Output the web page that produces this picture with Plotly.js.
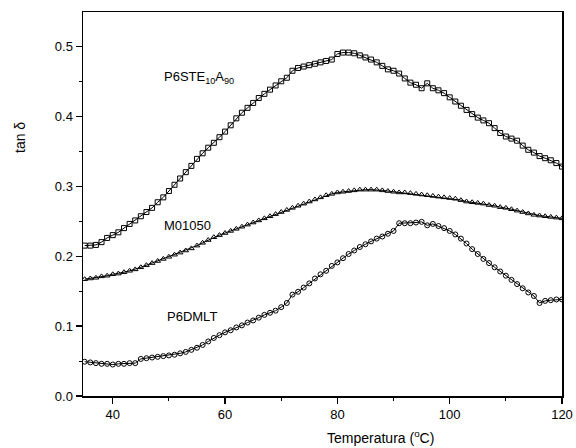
<!DOCTYPE html>
<html>
<head>
<meta charset="utf-8">
<script src="https://cdn.plot.ly/plotly-3.0.1.min.js"></script>
<style>html,body{margin:0;padding:0;background:#fff;}#chart{width:576px;height:448px;}</style>
</head>
<body>
<div id="chart"></div>
<script>
var temperature = [35,36,37,38,39,40,41,42,43,44,45,46,47,48,49,50,51,52,53,54,55,56,57,58,59,60,61,62,63,64,65,66,67,68,69,70,71,72,73,74,75,76,77,78,79,80,81,82,83,84,85,86,87,88,89,90,91,92,93,94,95,96,97,98,99,100,101,102,103,104,105,106,107,108,109,110,111,112,113,114,115,116,117,118,119,120];

var p6steValues = [0.215,0.215,0.216,0.220,0.226,0.230,0.234,0.240,0.246,0.251,0.257,0.263,0.269,0.277,0.284,0.293,0.302,0.311,0.320,0.329,0.339,0.347,0.355,0.362,0.370,0.378,0.387,0.397,0.405,0.412,0.419,0.426,0.432,0.438,0.444,0.450,0.455,0.465,0.469,0.471,0.473,0.475,0.477,0.479,0.481,0.489,0.491,0.491,0.490,0.487,0.484,0.481,0.477,0.472,0.467,0.465,0.461,0.454,0.448,0.445,0.440,0.447,0.440,0.437,0.433,0.427,0.421,0.415,0.409,0.403,0.398,0.394,0.390,0.383,0.376,0.371,0.368,0.365,0.358,0.352,0.348,0.343,0.340,0.337,0.333,0.328];

var m01050Values = [0.167,0.168,0.169,0.171,0.172,0.174,0.175,0.177,0.179,0.181,0.184,0.187,0.190,0.193,0.196,0.199,0.202,0.205,0.208,0.211,0.215,0.219,0.223,0.227,0.230,0.233,0.236,0.239,0.242,0.245,0.248,0.251,0.254,0.257,0.260,0.263,0.266,0.269,0.272,0.275,0.278,0.281,0.284,0.287,0.289,0.291,0.292,0.293,0.294,0.295,0.295,0.295,0.295,0.294,0.293,0.292,0.291,0.291,0.290,0.289,0.288,0.287,0.286,0.285,0.284,0.283,0.282,0.280,0.278,0.277,0.276,0.275,0.273,0.272,0.270,0.269,0.267,0.265,0.263,0.261,0.259,0.258,0.257,0.256,0.255,0.254];

var p6dmltValues = [0.049,0.048,0.047,0.046,0.046,0.045,0.046,0.046,0.047,0.047,0.053,0.054,0.055,0.056,0.057,0.058,0.059,0.061,0.063,0.066,0.069,0.073,0.078,0.083,0.087,0.091,0.094,0.098,0.101,0.105,0.108,0.112,0.116,0.119,0.122,0.127,0.133,0.145,0.149,0.155,0.161,0.168,0.174,0.179,0.186,0.191,0.197,0.203,0.208,0.213,0.217,0.221,0.225,0.228,0.232,0.236,0.247,0.247,0.247,0.248,0.249,0.244,0.246,0.243,0.240,0.236,0.231,0.225,0.218,0.210,0.203,0.196,0.190,0.184,0.178,0.172,0.166,0.160,0.154,0.148,0.143,0.133,0.136,0.137,0.138,0.138];

var seriesNames = ['P6STE<sub>10</sub>A<sub>90</sub>', 'M01050', 'P6DMLT'];
var xTickVals = [40, 60, 80, 100, 120];
var yTickVals = [0.0, 0.1, 0.2, 0.3, 0.4, 0.5];
var yTickText = ['0.0', '0.1', '0.2', '0.3', '0.4', '0.5'];

var font = 'Liberation Sans, Arial, sans-serif';

function trace(y, symbol, size) {
  return {
    x: temperature, y: y, type: 'scatter', mode: 'lines+markers',
    line: {color: '#000', width: 1},
    marker: {symbol: symbol, size: size, color: '#000', line: {color: '#000', width: 1}},
    showlegend: false, hoverinfo: 'skip'
  };
}

var data = [
  trace(p6steValues, 'square-open', 5),
  trace(m01050Values, 'triangle-up-open', 5),
  trace(p6dmltValues, 'circle-open', 5)
];

var axisCommon = {
  showgrid: false, zeroline: false, showline: true, linecolor: '#000', linewidth: 1.5,
  mirror: true, ticks: 'outside', ticklen: 6, tickwidth: 1.2, tickcolor: '#000',
  tickfont: {family: font, size: 13, color: '#000'}
};

var layout = {
  width: 576, height: 448,
  margin: {l: 83, r: 14, t: 12, b: 52},
  paper_bgcolor: '#fff', plot_bgcolor: '#fff',
  font: {family: font, color: '#000'},
  xaxis: Object.assign({}, axisCommon, {
    range: [34.7, 120], tickvals: xTickVals, ticktext: xTickVals.map(String),
    minor: {dtick: 10, tick0: 30, ticks: 'outside', ticklen: 3, tickcolor: '#000', tickwidth: 1}
  }),
  yaxis: Object.assign({}, axisCommon, {
    range: [0, 0.549], tickvals: yTickVals, ticktext: yTickText,
    minor: {dtick: 0.05, tick0: 0, ticks: 'outside', ticklen: 3, tickcolor: '#000', tickwidth: 1}
  }),
  annotations: [
    {text: seriesNames[0], x: 162, y: 77, showarrow: false, font: {size: 13}},
    {text: seriesNames[1], x: 187, y: 225, showarrow: false, font: {size: 13}},
    {text: seriesNames[2], x: 192, y: 316, showarrow: false, font: {size: 13}},
    {text: 'Temperatura (<sup>o</sup>C)', x: 380, y: 437, showarrow: false, font: {size: 14}},
    {text: 'tan δ', x: 20, y: 138, showarrow: false, textangle: -90, font: {size: 14}}
  ]
};

// convert pixel placements of text to paper coordinates
var plotL = 83, plotT = 12, plotW = 576 - 83 - 14, plotH = 448 - 12 - 52;
layout.annotations.forEach(function (a, i) {
  a.xref = 'paper'; a.yref = 'paper';
  a.font.family = font; a.font.color = '#000';
  a.xanchor = (i === 0) ? 'left' : 'center';
  a.yanchor = 'middle';
  a.x = (a.x - plotL) / plotW;
  a.y = 1 - (a.y - plotT) / plotH;
});

Plotly.newPlot('chart', data, layout, {displayModeBar: false, staticPlot: true});
</script>
</body>
</html>
